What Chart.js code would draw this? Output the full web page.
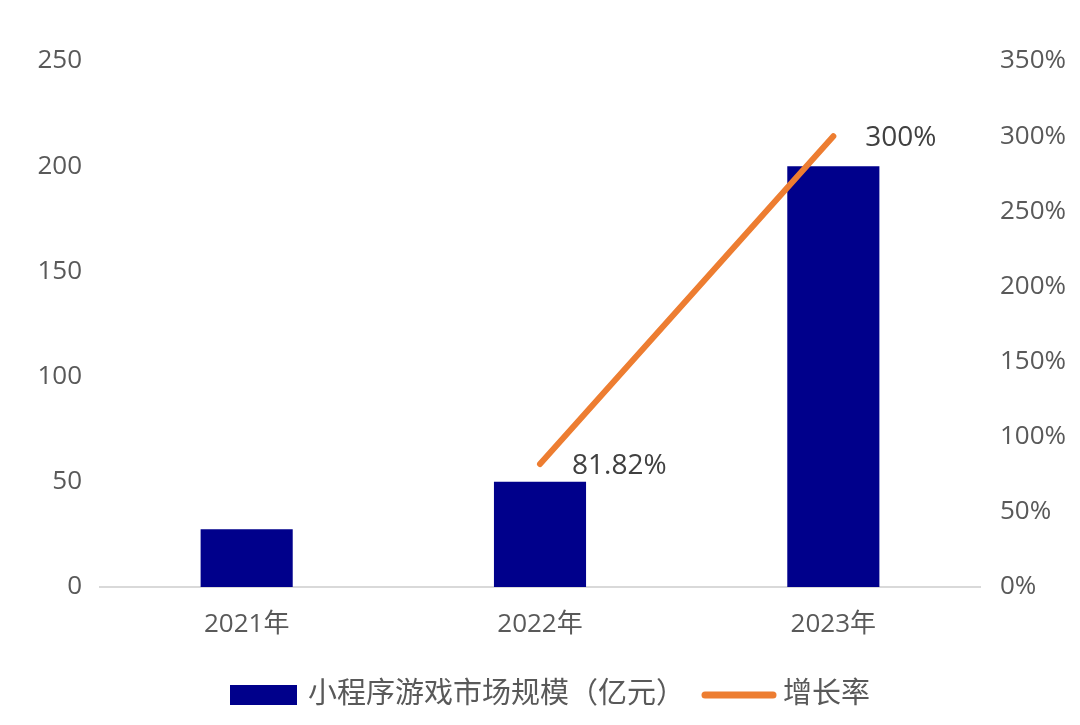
<!DOCTYPE html>
<html>
<head>
<meta charset="utf-8">
<script src="https://cdn.jsdelivr.net/npm/chart.js@4/dist/chart.umd.min.js"></script>
<style>
  html, body { margin: 0; padding: 0; background: #fff; }
  #wrap { width: 1080px; height: 725px; position: relative; }
</style>
</head>
<body>
<div id="wrap"><canvas id="marketChart"></canvas></div>
<script>
// data
const years = ['2021年', '2022年', '2023年'];
const marketSize = [27.5, 50, 200];          // 小程序游戏市场规模（亿元）
const growthRate = [null, 81.82, 300];       // 增长率 (%)
const growthLabels = [null, '81.82%', '300%'];
const seriesNames = ['小程序游戏市场规模（亿元）', '增长率'];

const FONT = '"Open Sans", "Noto Sans CJK SC", sans-serif';
const BAR_COLOR = '#00008B';
const LINE_COLOR = '#ED7D31';

// labels next to the points of the growth line
const pointLabels = {
    id: 'pointLabels',
    afterDatasetsDraw(chart) {
        const ctx = chart.ctx;
        const meta = chart.getDatasetMeta(1);
        ctx.save();
        ctx.font = '28px ' + FONT;
        ctx.fillStyle = '#404040';
        ctx.textAlign = 'left';
        ctx.textBaseline = 'middle';
        meta.data.forEach(function(pt, i) {
            if (growthLabels[i] == null) return;
            ctx.fillText(growthLabels[i], pt.x + 32, pt.y + 2);
        });
        ctx.restore();
    }
};

// simple legend at the bottom, like the office chart
const bottomLegend = {
    id: 'bottomLegend',
    afterDraw(chart) {
        const ctx = chart.ctx;
        const cy = 695;
        ctx.save();
        ctx.font = '29px ' + FONT;
        ctx.textBaseline = 'middle';
        ctx.textAlign = 'left';
        let x = 230;
        ctx.fillStyle = BAR_COLOR;
        ctx.fillRect(x, cy - 10, 67, 20);
        x += 78;
        ctx.fillStyle = '#595959';
        ctx.fillText(seriesNames[0], x, cy);
        x += ctx.measureText(seriesNames[0]).width + 16;
        ctx.strokeStyle = LINE_COLOR;
        ctx.lineWidth = 7;
        ctx.lineCap = 'round';
        ctx.beginPath();
        ctx.moveTo(x + 4, cy);
        ctx.lineTo(x + 72, cy);
        ctx.stroke();
        x += 82;
        ctx.fillText(seriesNames[1], x, cy);
        ctx.restore();
    }
};

const ctx = document.getElementById('marketChart').getContext('2d');
const chart = new Chart(ctx, {
    type: 'bar',
    data: {
        labels: years,
        datasets: [{
            label: seriesNames[0],
            data: marketSize,
            backgroundColor: BAR_COLOR,
            categoryPercentage: 1,
            barPercentage: 0.314,
            yAxisID: 'y',
            order: 2
        }, {
            type: 'line',
            label: seriesNames[1],
            data: growthRate,
            borderColor: LINE_COLOR,
            backgroundColor: LINE_COLOR,
            borderWidth: 6,
            borderCapStyle: 'round',
            pointRadius: 0,
            tension: 0,
            yAxisID: 'y1',
            order: 1
        }]
    },
    options: {
        responsive: true,
        maintainAspectRatio: false,
        animation: false,
        layout: { padding: { top: 61, left: 0, right: 0, bottom: 0 } },
        plugins: {
            legend: { display: false },
            tooltip: { enabled: false }
        },
        scales: {
            x: {
                grid: { display: false, drawTicks: false },
                border: { color: '#D9D9D9', width: 2 },
                ticks: { color: '#595959', font: { size: 26, family: FONT }, padding: 22 },
                afterFit: function(scale) { scale.height = 138; }
            },
            y: {
                position: 'left',
                min: 0, max: 250,
                grid: { display: false, drawTicks: false },
                border: { display: false },
                ticks: { stepSize: 50, color: '#595959', font: { size: 26, family: FONT }, padding: 18 },
                afterFit: function(scale) { scale.width = 100; }
            },
            y1: {
                position: 'right',
                min: 0, max: 350,
                grid: { display: false, drawTicks: false },
                border: { display: false },
                ticks: {
                    stepSize: 50, color: '#595959', font: { size: 26, family: FONT }, padding: 20,
                    callback: function(v) { return v + '%'; }
                },
                afterFit: function(scale) { scale.width = 100; }
            }
        }
    },
    plugins: [pointLabels, bottomLegend]
});
</script>
</body>
</html>
